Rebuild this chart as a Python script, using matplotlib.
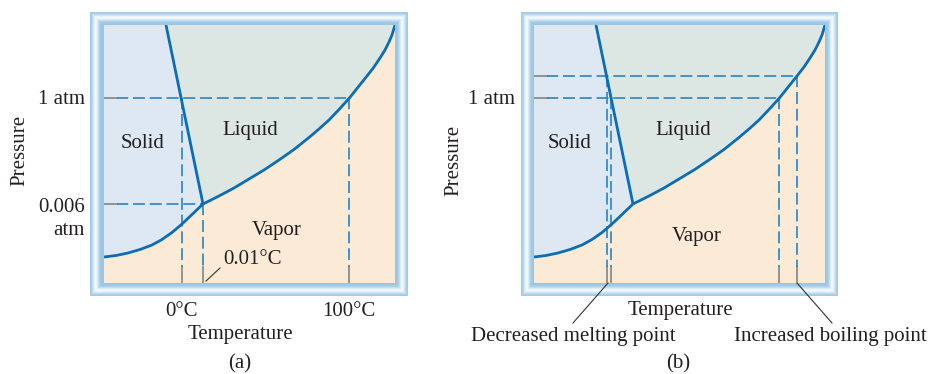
import numpy as np
import matplotlib
matplotlib.use("Agg")
import matplotlib.pyplot as plt
from matplotlib.patches import Rectangle, Polygon

plt.rcParams['font.family'] = ['Liberation Serif', 'DejaVu Serif']

# ---------------- data (schematic units) ----------------
# temperature axis 0..291, pressure axis 0..258 (arbitrary schematic units)
T_MAX, P_MAX = 291, 258

fusion_T = [62, 99]
fusion_P = [258, 79]

sublim_T = [0, 12, 24, 36, 48, 58, 68, 78, 88, 99]
sublim_P = [26, 27.5, 30, 33.5, 38, 43.5, 50.5, 59, 68.5, 79]

vapor_T = [99, 115, 130, 145, 160, 175, 190, 205, 215, 225, 235, 245,
           255, 263, 270, 276, 281, 285, 288, 291]
vapor_P = [79, 87, 95, 104, 113, 123, 133.5, 145.5, 154, 163, 173.5, 184.5,
           197, 207, 216, 225, 233, 241, 248, 258]

# panel (a) reference levels
a_pressures = [185, 79]
a_press_labels = ['1 atm', '0.006\natm']
a_temps = [78, 99, 245]
a_temp_levels = [185, 79, 185]
a_temp_labels = ['0°C', '100°C']
a_temp_label_pos = [78, 245]

# panel (b) reference levels
b_pressures = [185, 207]
b_melt = [77, 73]
b_boil = [245, 263]

# ---------------- style ----------------
C_SOLID = '#dde8f3'
C_LIQ = '#dce7e4'
C_VAP = '#fbebd6'
C_CURVE = '#0b6db6'
C_DASH = '#1f7fc4'
C_TICK = '#8c8c8c'
C_TEXT = '#231f20'
FS = 15

W, H = 931, 374
fig = plt.figure(figsize=(W / 100, H / 100), dpi=100)

frame_cols = ['#a3cbe6', '#aacfe8', '#bcd9ee', '#d2e6f4', '#e6f1f9', '#f3f8fc',
              '#eef5fb', '#dbebf6', '#c3def1', '#add2eb', '#a0cae7', '#9bc7e5',
              '#99c6e4', '#99c6e4']


def frame(L, T, R, B):
    for i, c in enumerate(frame_cols):
        fig.add_artist(Rectangle(((L + i) / W, (H - (B - i)) / H),
                                 (R - L - 2 * i) / W, (B - T - 2 * i) / H,
                                 transform=fig.transFigure, facecolor=c,
                                 edgecolor='none', zorder=-5))


def make_axes(left_px):
    ax = fig.add_axes([left_px / W, (H - 283) / H, 291 / W, 258 / H])
    ax.set_xlim(0, T_MAX)
    ax.set_ylim(0, P_MAX)
    ax.set_facecolor(C_VAP)
    ax.set_xticks([])
    ax.set_yticks([])
    for s in ax.spines.values():
        s.set_visible(False)
    solid = [(0, P_MAX), (fusion_T[0], fusion_P[0]), (fusion_T[1], fusion_P[1])] + \
        list(zip(sublim_T[::-1], sublim_P[::-1]))[1:]
    ax.add_patch(Polygon(solid, closed=True, facecolor=C_SOLID, edgecolor='none', zorder=1))
    liquid = [(fusion_T[0], fusion_P[0]), (T_MAX, P_MAX)] + \
        list(zip(vapor_T[::-1], vapor_P[::-1]))[1:]
    ax.add_patch(Polygon(liquid, closed=True, facecolor=C_LIQ, edgecolor='none', zorder=1))
    return ax


def curves(ax):
    kw = dict(color=C_CURVE, lw=2.0, solid_capstyle='butt', solid_joinstyle='round', zorder=5)
    ax.plot(fusion_T, fusion_P, **kw)
    ax.plot(sublim_T, sublim_P, **kw)
    ax.plot(vapor_T, vapor_P, **kw)


dash_kw = dict(color=C_DASH, lw=1.15, ls=(0.5, (7.5, 3.0)), zorder=3)
tick_kw = dict(color=C_TICK, lw=1.3, zorder=3)


def hline(ax, p, t_end):
    ax.plot([0, 13], [p, p], **tick_kw)
    ax.plot([13, t_end], [p, p], **dash_kw)


def vline(ax, t, p_top):
    ax.plot([t, t], [0, 16], **tick_kw)
    ax.plot([t, t], [p_top, 16], **dash_kw)


def txt(ax, x, y, s, **kw):
    kw.setdefault('ha', 'center')
    kw.setdefault('va', 'center')
    ax.text(x, y, s, fontsize=FS, color=C_TEXT, clip_on=False, **kw)


# ---------------- panel (a) ----------------
frame(90, 12, 408, 296)
axa = make_axes(104)
hline(axa, a_pressures[0], a_temps[2])
hline(axa, a_pressures[1], a_temps[1])
for t, p in zip(a_temps, a_temp_levels):
    vline(axa, t, p)
curves(axa)
axa.plot([102, 116], [2, 15], color='#333333', lw=0.8, zorder=4)

txt(axa, -19, a_pressures[0] - 2, a_press_labels[0], ha='right')
txt(axa, -19, 85, a_press_labels[1], ha='right', va='top', multialignment='right',
    linespacing=1.3)
txt(axa, -84, 133, 'Pressure', rotation=90)
for x, s in zip(a_temp_label_pos, a_temp_labels):
    txt(axa, x, -28, s)
txt(axa, 136, -51, 'Temperature')
txt(axa, 136, -81, '(a)')
txt(axa, 39, 140, 'Solid')
txt(axa, 146, 153, 'Liquid')
txt(axa, 173, 53, 'Vapor')
txt(axa, 149, 24, '0.01°C')

# ---------------- panel (b) ----------------
frame(521, 12, 838, 296)
axb = make_axes(534)
for p, tb in zip(b_pressures, b_boil):
    hline(axb, p, tb)
for p, tm, tb in zip(b_pressures, b_melt, b_boil):
    vline(axb, tm, p)
    vline(axb, tb, p)
curves(axb)
axb.plot([b_melt[1] + 1, 39], [0, -40], color='#333333', lw=0.8, clip_on=False)
axb.plot([b_boil[1], 298], [0, -40], color='#333333', lw=0.8, clip_on=False)

txt(axb, -19, b_pressures[0] - 2, '1 atm', ha='right')
txt(axb, -80, 123, 'Pressure', rotation=90)
txt(axb, 146, -28, 'Temperature')
txt(axb, 39, -53, 'Decreased melting point')
txt(axb, 296, -53, 'Increased boiling point')
txt(axb, 144, -81, '(b)')
txt(axb, 36, 140, 'Solid')
txt(axb, 149, 153, 'Liquid')
txt(axb, 163, 47, 'Vapor')

fig.savefig('out.png', dpi=100)
